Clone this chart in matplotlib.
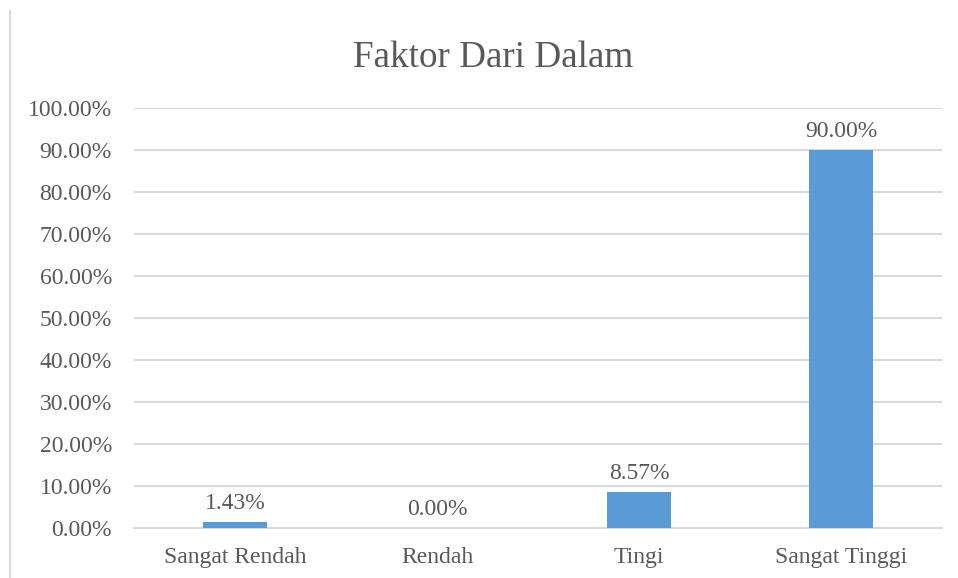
import matplotlib
matplotlib.use("Agg")
import matplotlib.pyplot as plt
from matplotlib.lines import Line2D
from matplotlib.ticker import FuncFormatter, MultipleLocator

categories = ["Sangat Rendah", "Rendah", "Tingi", "Sangat Tinggi"]
values = [1.43, 0.00, 8.57, 90.00]

text_color = "#595959"
grid_color = "#d9d9d9"
bar_color = "#5b9bd5"

plt.rcParams["font.family"] = ["Liberation Serif", "DejaVu Serif"]

fig = plt.figure(figsize=(9.58, 5.78), dpi=100)
ax = fig.add_axes([0.1399, 0.0865, 0.8434, 0.7266])

x = range(len(categories))
ax.bar(x, values, width=0.32, color=bar_color, zorder=3)

for xi, v in zip(x, values):
    ax.text(xi, v + 2.0, f"{v:.2f}%", ha="center", va="bottom",
            fontsize=17, color=text_color)

ax.set_xlim(-0.5, len(categories) - 0.5)
ax.set_ylim(0, 100)
ax.yaxis.set_major_locator(MultipleLocator(10))
ax.yaxis.set_major_formatter(FuncFormatter(lambda v, _: f"{v:.2f}%"))
ax.set_xticks(list(x))
ax.set_xticklabels(categories)
ax.tick_params(axis="both", length=0, labelsize=17, labelcolor=text_color)
ax.tick_params(axis="y", pad=16)
ax.tick_params(axis="x", pad=14)
ax.grid(axis="y", color=grid_color, linewidth=1.5, zorder=0)
for side in ["top", "right", "left"]:
    ax.spines[side].set_visible(False)
ax.spines["bottom"].set_color(grid_color)
ax.spines["bottom"].set_linewidth(1.5)

fig.text(0.515, 0.9, "Faktor Dari Dalam", ha="center", va="center",
         fontsize=26.7, color=text_color)

# thin frame line on the left edge
fig.add_artist(Line2D([10 / 958, 10 / 958], [0, 1 - 11 / 578],
                      transform=fig.transFigure, color=grid_color, linewidth=1.5))

fig.savefig("out.png", dpi=100)
